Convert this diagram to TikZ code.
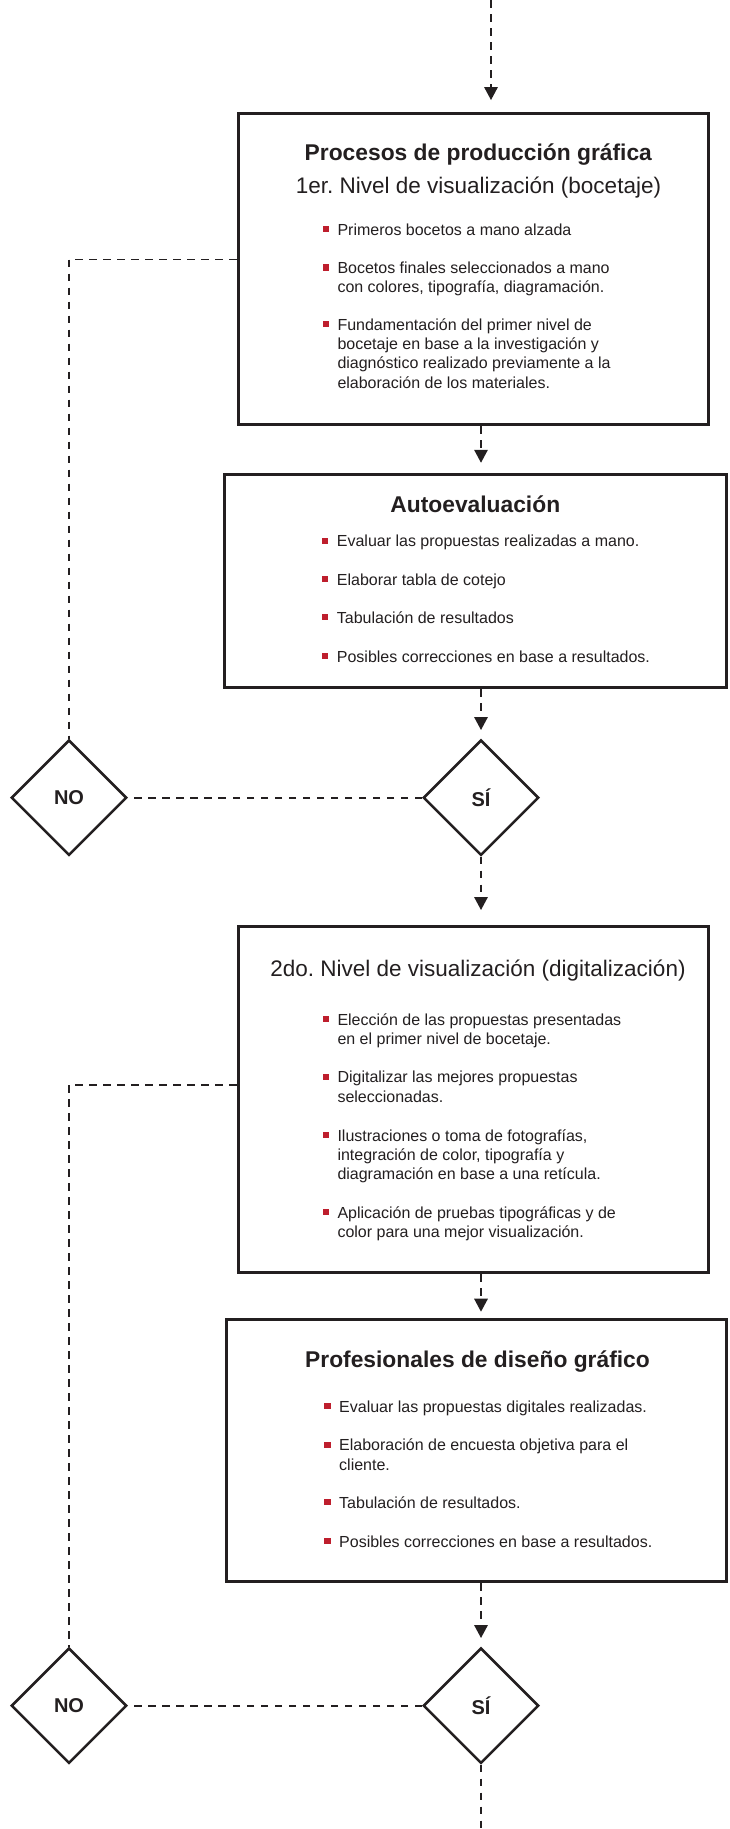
\documentclass[tikz,border=0pt]{standalone}
\usepackage{fontspec}
\setmainfont{Liberation Sans}
\usetikzlibrary{arrows.meta,shapes.geometric}
\frenchspacing

\definecolor{ink}{HTML}{231F20}
\definecolor{bul}{HTML}{BE1E2D}

% red square bullet hung to the left of the first line
\newcommand{\redsq}{\textcolor{bul}{\rule[3bp]{6.2bp}{6.2bp}}}
\newcommand{\bulletlines}[1]{\parbox[t]{360bp}{\raggedright\leavevmode\llap{\redsq\hspace{8.6bp}}#1}}

\tikzset{
  panel/.style={rectangle, draw=ink, line width=3bp, inner sep=0pt, fill=white},
  decision/.style={diamond, aspect=1, draw=ink, line width=2.6bp, inner sep=0pt,
    minimum width=115.4bp, minimum height=115.4bp, text=ink,
    font=\fontsize{20bp}{24bp}\selectfont\bfseries},
  headline/.style={anchor=base, inner sep=0pt, text=ink,
    font=\fontsize{22.8bp}{27bp}\selectfont\bfseries},
  subline/.style={anchor=base, inner sep=0pt, text=ink,
    font=\fontsize{22.5bp}{27bp}\selectfont},
  entry/.style={anchor=base west, inner sep=0pt, text=ink,
    font=\fontsize{16bp}{19.3bp}\selectfont},
  dashline/.style={draw=ink, line width=1.6bp, dash pattern=on 7.5bp off 6.5bp},
  flow/.style={dashline, -{Triangle[length=13bp,width=13.5bp]}},
}

\begin{document}
\begin{tikzpicture}[x=1bp, y=-1bp]
\useasboundingbox (0,0) rectangle (730,1829);

% ---- panels ----
\node[panel, minimum width=470.3bp, minimum height=311.3bp] (box1) at (473.4,268.9) {};
\node[panel, minimum width=501.5bp, minimum height=213.3bp] (box2) at (475.3,580.9) {};
\node[panel, minimum width=470.3bp, minimum height=346bp]   (box3) at (473.4,1099.5) {};
\node[panel, minimum width=500.3bp, minimum height=262bp]   (box4) at (476.7,1450.8) {};

% ---- decisions ----
\node[decision] (no1) at (69,797.7) {NO};
\node[decision] (si1) at (481,797.7) {SÍ};
\node[decision] (no2) at (69,1705.7) {NO};
\node[decision] (si2) at (481,1705.7) {SÍ};

% ---- panel 1 ----
\node[headline] (t1) at (478.3,160.7) {Procesos de producción gráfica};
\node[subline]  (s1) at (478.5,193.5) {1er. Nivel de visualización (bocetaje)};
\node[entry] (i11) at (337.3,235.3) {\bulletlines{Primeros bocetos a mano alzada}};
\node[entry] (i12) at (337.3,273.5) {\bulletlines{Bocetos finales seleccionados a mano\\con colores, tipografía, diagramación.}};
\node[entry] (i13) at (337.3,330.3) {\bulletlines{Fundamentación del primer nivel de\\bocetaje en base a la investigación y\\diagnóstico realizado previamente a la\\elaboración de los materiales.}};

% ---- panel 2 ----
\node[headline] (t2) at (475.3,512.7) {Autoevaluación};
\node[entry] (i21) at (336.7,546.7) {\bulletlines{Evaluar las propuestas realizadas a mano.}};
\node[entry] (i22) at (336.7,585)   {\bulletlines{Elaborar tabla de cotejo}};
\node[entry] (i23) at (336.7,623.3) {\bulletlines{Tabulación de resultados}};
\node[entry] (i24) at (336.7,662)   {\bulletlines{Posibles correcciones en base a resultados.}};

% ---- panel 3 ----
\node[subline] (s3) at (478,976.7) {2do. Nivel de visualización (digitalización)};
\node[entry] (i31) at (337.3,1025)   {\bulletlines{Elección de las propuestas presentadas\\en el primer nivel de bocetaje.}};
\node[entry] (i32) at (337.3,1082.7) {\bulletlines{Digitalizar las mejores propuestas\\seleccionadas.}};
\node[entry] (i33) at (337.3,1141)   {\bulletlines{Ilustraciones o toma de fotografías,\\integración de color, tipografía y\\diagramación en base a una retícula.}};
\node[entry] (i34) at (337.3,1218.3) {\bulletlines{Aplicación de pruebas tipográficas y de\\color para una mejor visualización.}};

% ---- panel 4 ----
\node[headline] (t4) at (477.5,1367.7) {Profesionales de diseño gráfico};
\node[entry] (i41) at (339,1412.3) {\bulletlines{Evaluar las propuestas digitales realizadas.}};
\node[entry] (i42) at (339,1450.7) {\bulletlines{Elaboración de encuesta objetiva para el\\cliente.}};
\node[entry] (i43) at (339,1508.3) {\bulletlines{Tabulación de resultados.}};
\node[entry] (i44) at (339,1547.3) {\bulletlines{Posibles correcciones en base a resultados.}};

% ---- main flow ----
\coordinate (top) at (491,0);
\coordinate (bot) at (481,1829);
\draw[flow, shorten >=11.7bp] (top) -- (top |- box1.north);
\draw[flow, shorten >=10bp]   (si1 |- box1.south) -- (si1 |- box2.north);
\draw[flow, shorten >=8.7bp]  (si1 |- box2.south) -- (si1.north);
\draw[flow, shorten >=15bp]   (si1.south) -- (si1 |- box3.north);
\draw[flow, shorten >=6.6bp]  (si1 |- box3.south) -- (si1 |- box4.north);
\draw[flow, shorten >=8.7bp]  (si2 |- box4.south) -- (si2.north);
\draw[dashline] (si2.south) -- (bot);

% ---- rejection loops ----
\coordinate (c1) at (69,259.3);
\coordinate (c2) at (69,1085);
\draw[dashline] (box1.west |- c1) -- (c1) -- (no1.north);
\draw[dashline] (si1.west) -- (no1.east);
\draw[dashline] (box3.west |- c2) -- (c2) -- (no2.north);
\draw[dashline] (si2.west) -- (no2.east);
\end{tikzpicture}
\end{document}
